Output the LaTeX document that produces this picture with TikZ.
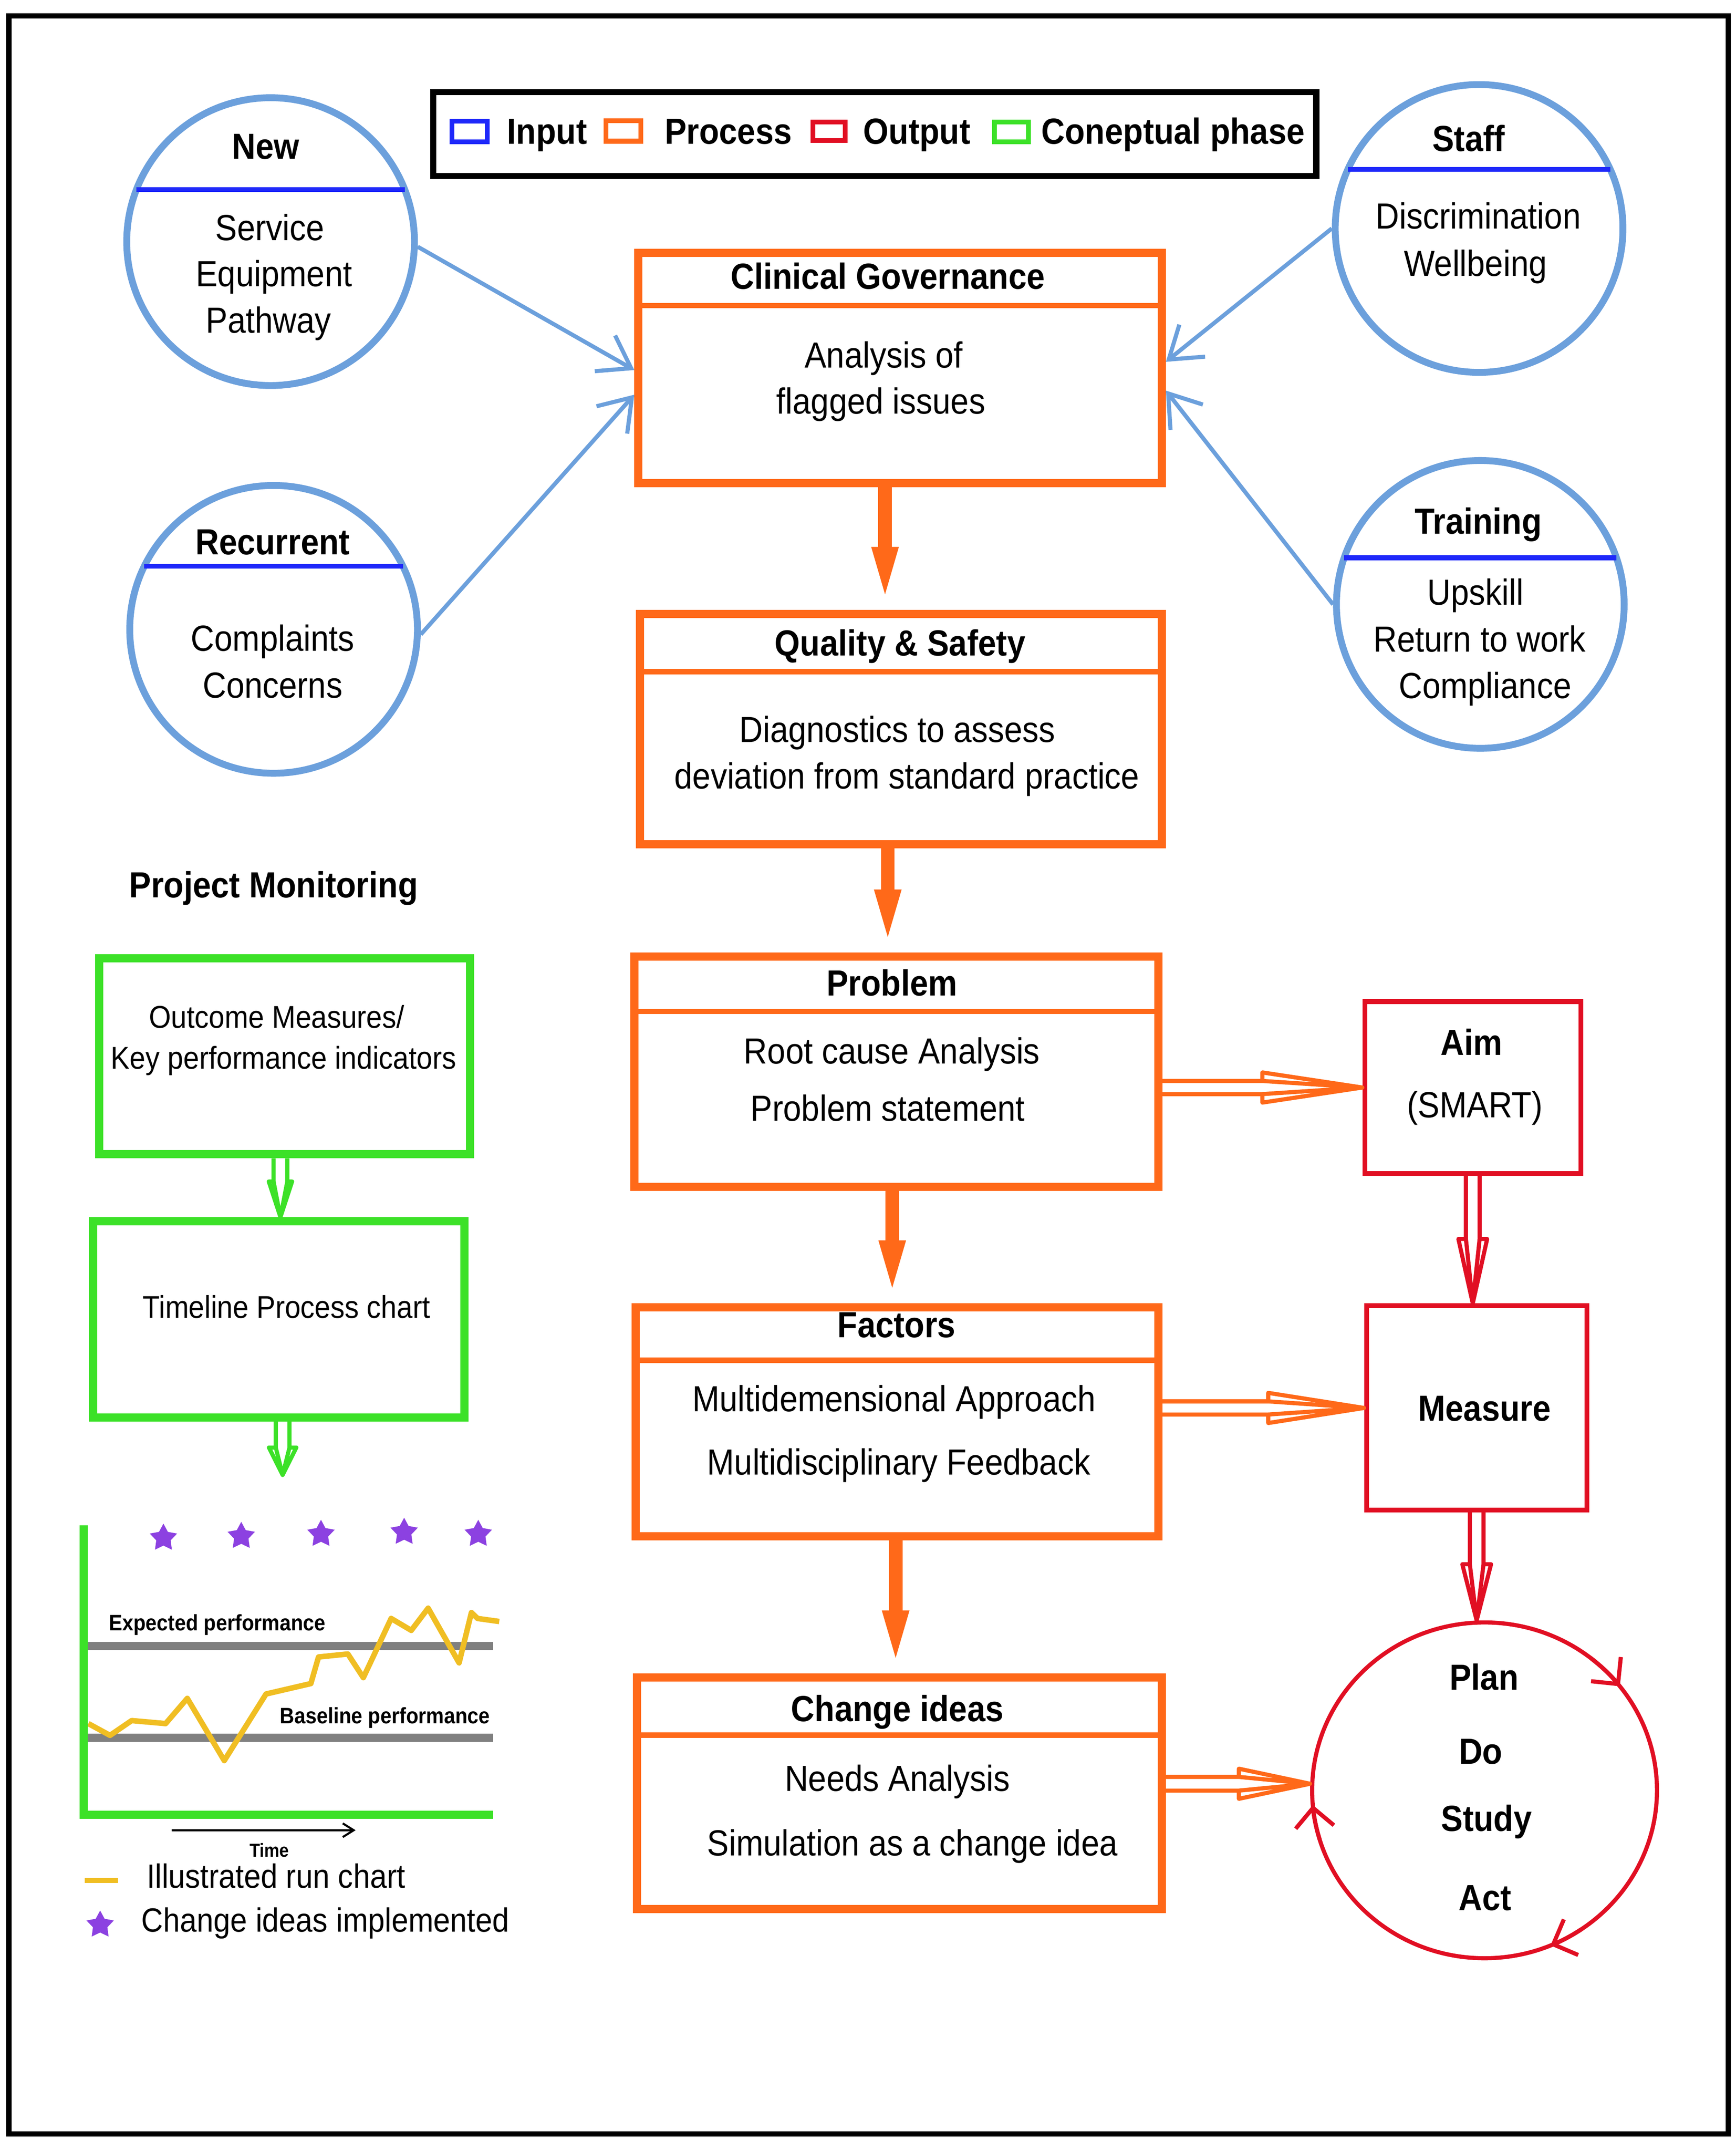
\documentclass[tikz,border=0pt]{standalone}
\usepackage{fontspec}
\setmainfont{Liberation Sans}[FakeStretch=0.9]
\usetikzlibrary{arrows.meta,calc,shapes.geometric}
\definecolor{cblue}{RGB}{108,160,220}
\definecolor{cdiv}{RGB}{30,40,250}
\definecolor{corange}{RGB}{255,105,25}
\definecolor{cred}{RGB}{225,15,35}
\definecolor{cgreen}{RGB}{60,225,40}
\definecolor{cgray}{RGB}{128,128,128}
\definecolor{cyellow}{RGB}{240,190,35}
\definecolor{cpurple}{RGB}{140,65,225}
\newcommand\fbody{\fontsize{26.5}{30}\selectfont}
\newcommand\fgreen{\fontsize{23}{27}\selectfont}
\newcommand\fsmall{\fontsize{16.3}{19}\selectfont}
\newcommand\ftime{\fontsize{13.8}{16}\selectfont}
\newcommand\fleg{\fontsize{24.5}{28}\selectfont}
% hollow arrow pointing right: style, start, tip, shaft half, head half, head length
\newcommand\hollowR[6]{\draw[#1] let \p1=(#2), \p2=(#3) in
  (\x1,\y2+#4) -- (\x2-#6,\y2+#4) -- (\x2-#6,\y2+#5) -- (\x2,\y2) -- (\x2-#6,\y2-#5) -- (\x2-#6,\y2-#4) -- (\x1,\y2-#4)
  (\x2-#6,\y2+#4) -- (\x2,\y2) -- (\x2-#6,\y2-#4);}
% hollow arrow pointing down
\newcommand\hollowD[6]{\draw[#1] let \p1=(#2), \p2=(#3) in
  (\x2-#4,\y1) -- (\x2-#4,\y2+#6) -- (\x2-#5,\y2+#6) -- (\x2,\y2) -- (\x2+#5,\y2+#6) -- (\x2+#4,\y2+#6) -- (\x2+#4,\y1)
  (\x2-#4,\y2+#6) -- (\x2,\y2) -- (\x2+#4,\y2+#6);}
\tikzset{
 txt/.style={font=\fbody, anchor=base, inner sep=0pt},
 ttl/.style={font=\fbody\bfseries, anchor=base, inner sep=0pt},
 gtxt/.style={font=\fgreen, anchor=base, inner sep=0pt},
 obox/.style={rectangle, draw=corange, line width=6pt, inner sep=0pt},
 odiv/.style={draw=corange, line width=4pt},
 rbox/.style={rectangle, draw=cred, line width=3.5pt, inner sep=0pt},
 gbox/.style={rectangle, draw=cgreen, line width=6pt, inner sep=0pt},
 bcirc/.style={circle, draw=cblue, line width=5pt, minimum size=210pt, inner sep=0pt},
 bdiv/.style={draw=cdiv, line width=3.5pt},
 barrow/.style={draw=cblue, line width=3pt, -{Straight Barb[length=22pt,width=30pt]}},
 oarrow/.style={draw=corange, line width=10pt, -{Triangle[length=46pt,width=16pt]}},
 ohollow/.style={draw=corange, line width=3pt, line join=round},
 rhollow/.style={draw=cred, line width=3pt, line join=round},
 ghollow/.style={draw=cgreen, line width=3pt, line join=round},
 cycarrow/.style={draw=cred, line width=3pt, -{Straight Barb[length=14pt,width=28pt]}},
 swatch/.style={line width=3.5pt},
 pstar/.style={star, star points=5, star point ratio=1.9, fill=cpurple, minimum size=21pt, inner sep=0pt},
}
\begin{document}
\begin{tikzpicture}[x=1pt,y=-1pt]
\useasboundingbox[fill=white] (0,0) rectangle (1267,1570.2);
% outer frame
\draw[line width=4pt] (6.5,11.6) rectangle (1261.5,1557);

% legend
\node[draw, line width=4.5pt, minimum width=644.6pt, minimum height=61.2pt, inner sep=0pt] (legend) at (638.5,97.8) {};
\draw[swatch, draw=cdiv] (329.8,88.5) rectangle (355.7,103.5);
\draw[swatch, draw=corange] (442.2,88) rectangle (467.7,103);
\draw[swatch, draw=cred] (593.3,89) rectangle (616.9,102.5);
\draw[swatch, draw=cgreen] (725.8,89) rectangle (750.8,103.5);
\node[ttl, anchor=base west] (lin) at (370,105) {Input};
\node[ttl, anchor=base west] (lpr) at (485,105) {Process};
\node[ttl, anchor=base west] (lout) at (630,105) {Output};
\node[ttl, anchor=base west] (lcon) at (760,105) {Coneptual phase};

% input circles
\node[bcirc] (new) at (197.5,176.3) {};
\draw[bdiv] ($(new)+(-97.9,-38)$) -- ($(new)+(97.9,-38)$);
\node[ttl] (nt) at (194,116) {New};
\node[txt] (n1) at (197,175.5) {Service};
\node[txt] (n2) at (200,209) {Equipment};
\node[txt] (n3) at (196,243) {Pathway};

\node[bcirc] (rec) at (199.7,459.2) {};
\draw[bdiv] ($(rec)+(-94.4,-46)$) -- ($(rec)+(94.4,-46)$);
\node[ttl] (rt) at (199,404.5) {Recurrent};
\node[txt] (r1) at (199,475) {Complaints};
\node[txt] (r2) at (199,509.3) {Concerns};

\node[bcirc] (staff) at (1079.6,166.7) {};
\draw[bdiv] ($(staff)+(-95.8,-43)$) -- ($(staff)+(95.8,-43)$);
\node[ttl] (st) at (1072,110.3) {Staff};
\node[txt] (s1) at (1079,167) {Discrimination};
\node[txt] (s2) at (1077,201.5) {Wellbeing};

\node[bcirc] (train) at (1080.5,441) {};
\draw[bdiv] ($(train)+(-99.3,-34)$) -- ($(train)+(99.3,-34)$);
\node[ttl] (tt) at (1079,389.5) {Training};
\node[txt] (t1) at (1077,441.5) {Upskill};
\node[txt] (t2) at (1080,475.5) {Return to work};
\node[txt] (t3) at (1084,509.5) {Compliance};

% process boxes
\node[obox, minimum width=382pt, minimum height=168pt] (cg) at (657,268.5) {};
\draw[odiv] (cg.west |- 0,223) -- (cg.east |- 0,223);
\node[ttl] (cgt) at (648,211) {Clinical Governance};
\node[txt] (cg1) at (645,268.5) {Analysis of};
\node[txt] (cg2) at (643,302) {flagged issues};

\node[obox, minimum width=381pt, minimum height=168pt] (qs) at (657.5,532) {};
\draw[odiv] (qs.west |- 0,490) -- (qs.east |- 0,490);
\node[ttl] (qst) at (657,478.5) {Quality \& Safety};
\node[txt] (qs1) at (655,541.5) {Diagnostics to assess};
\node[txt] (qs2) at (662,575.5) {deviation from standard practice};

\node[obox, minimum width=382.5pt, minimum height=168pt] (prob) at (654.25,782) {};
\draw[odiv] (prob.west |- 0,738) -- (prob.east |- 0,738);
\node[ttl] (pt) at (651,726.4) {Problem};
\node[txt] (p1) at (651,776) {Root cause Analysis};
\node[txt] (p2) at (648,818) {Problem statement};

\node[obox, minimum width=381.5pt, minimum height=167pt] (fac) at (654.75,1037.5) {};
\draw[odiv] (fac.west |- 0,992.5) -- (fac.east |- 0,992.5);
\node[ttl] (ft) at (654.4,976) {Factors};
\node[txt] (f1) at (652.6,1030) {Multidemensional Approach};
\node[txt] (f2) at (656,1076) {Multidisciplinary Feedback};

\node[obox, minimum width=383pt, minimum height=169pt] (chg) at (656.5,1308.5) {};
\draw[odiv] (chg.west |- 0,1266) -- (chg.east |- 0,1266);
\node[ttl] (ct) at (655,1256) {Change ideas};
\node[txt] (c1) at (655,1307) {Needs Analysis};
\node[txt] (c2) at (666,1354) {Simulation as a change idea};

% output boxes
\node[rbox, minimum width=157.7pt, minimum height=125.5pt] (aim) at (1075,793.5) {};
\node[ttl] (at) at (1074,770) {Aim};
\node[txt] (a1) at (1076.5,815.5) {(SMART)};
\node[rbox, minimum width=160.8pt, minimum height=149.1pt] (measure) at (1077.85,1027.3) {};
\node[ttl] (mt) at (1083.6,1036.7) {Measure};
\node[ellipse, draw=cred, line width=3pt, minimum width=251.7pt, minimum height=245pt, inner sep=0pt] (pdsa) at (1083.6,1306.3) {};
\node[ttl] (plan) at (1083.2,1233) {Plan};
\node[ttl] (do) at (1080.8,1287) {Do};
\node[ttl] (study) at (1085,1336) {Study};
\node[ttl] (act) at (1084,1394) {Act};
\draw[cycarrow] (pdsa.center) ++(-52:125.85 and 122.5) arc[start angle=-52, end angle=-38.3, x radius=125.85, y radius=122.5];
\draw[cycarrow] (pdsa.center) ++(56:125.85 and 122.5) arc[start angle=56, end angle=67.5, x radius=125.85, y radius=122.5];
\draw[cycarrow] (pdsa.center) ++(163:125.85 and 122.5) arc[start angle=163, end angle=175, x radius=125.85, y radius=122.5];

% input arrows
\draw[barrow] (new.-2) -- ($(cg.west)+(0,1.5)$);
\draw[barrow] (rec.-2) -- ($(cg.west)+(0,19.5)$);
\draw[barrow] (staff.180) -- ($(cg.east)+(0,-4.5)$);
\draw[barrow] (train.180) -- ($(cg.east)+(0,16.5)$);

% process arrows
\draw[oarrow] ([xshift=-11pt]cg.south) -- ([xshift=-11pt]cg.south |- qs.north);
\draw[oarrow] ([xshift=-9.5pt]qs.south) -- ([xshift=-9.5pt]qs.south |- prob.north);
\draw[oarrow] ([xshift=-3pt]prob.south) -- ([xshift=-3pt]prob.south |- fac.north);
\draw[oarrow] ([xshift=-1pt]fac.south) -- ([xshift=-1pt]fac.south |- chg.north);

% hollow arrows
\coordinate (cp) at ($(pdsa.west)+(0,-4.8)$);
\hollowR{ohollow}{prob.east}{aim.west}{4.8pt}{11pt}{73pt}
\hollowR{ohollow}{fac.east}{measure.west}{4.8pt}{11pt}{70pt}
\hollowR{ohollow}{chg.east}{cp}{5pt}{11pt}{52pt}
\coordinate (am) at (aim.south |- measure.north);
\coordinate (mp) at (measure.south |- pdsa.north);
\hollowD{rhollow}{aim.south}{am}{5pt}{10.5pt}{47pt}
\hollowD{rhollow}{measure.south}{mp}{5pt}{10.5pt}{41pt}

% project monitoring
\node[ttl, anchor=base west] (pm) at (94.2,655) {Project Monitoring};
\node[gbox, minimum width=270.6pt, minimum height=143.1pt] (g1) at (207.7,770.65) {};
\node[gtxt] (g1a) at (202,750) {Outcome Measures/};
\node[gtxt] (g1b) at (207,780) {Key performance indicators};
\node[gbox, minimum width=271pt, minimum height=143.1pt] (g2) at (203.4,962.65) {};
\node[gtxt] (g2a) at (209,961.7) {Timeline Process chart};
\coordinate (ga1) at ($(g1.south)+(-3,0)$);
\coordinate (ga1t) at (ga1 |- g2.north);
\hollowD{ghollow}{g1.south}{ga1t}{5pt}{8.5pt}{26pt}
\coordinate (gtip) at (206.3,1076.2);
\hollowD{ghollow}{g2.south}{gtip}{5pt}{10pt}{20pt}

% run chart
\draw[cgray, line width=6pt] (59,1201) -- (360,1201);
\draw[cgray, line width=6pt] (59,1268) -- (360,1268);
\draw[cyellow, line width=4pt, line join=round] (64.5,1257.6) -- (80.3,1266.2) -- (96.1,1255.4) -- (120.9,1257.6) -- (136.7,1239.2) -- (163.7,1284.6) -- (194.2,1236) -- (226.9,1228.4) -- (232.5,1209) -- (253.9,1206.8) -- (265.2,1224.1) -- (285.5,1180.9) -- (300.2,1189.6) -- (312.5,1173.4) -- (335.1,1213.3) -- (344.1,1176.6) -- (348.6,1180.9) -- (364.4,1183.1);
\draw[cgreen, line width=6pt] (61,1113) -- (61,1324) -- (360,1324);
\node[pstar] (st1) at (119.3,1122.2) {};
\node[pstar] (st2) at (176.1,1120.9) {};
\node[pstar] (st3) at (234.3,1119.4) {};
\node[pstar] (st4) at (295,1117.9) {};
\node[pstar] (st5) at (349.1,1119.4) {};
\node[font=\fsmall\bfseries, anchor=base, inner sep=0pt] (exp) at (158.6,1189.6) {Expected performance};
\node[font=\fsmall\bfseries, anchor=base, inner sep=0pt] (bas) at (281,1257.6) {Baseline performance};
\coordinate (ta) at (125.4,1335.4);
\coordinate (tb) at (259.6,1335.4);
\draw[line width=1.5pt, -{Straight Barb[length=8pt,width=10pt]}] (ta) -- (tb);
\node[font=\ftime\bfseries, anchor=base, inner sep=0pt] (time) at (196.6,1354.8) {Time};
\draw[cyellow, line width=4pt] (62,1372) -- (86,1372);
\node[font=\fleg, anchor=base, inner sep=0pt] (leg1) at (201.5,1377.5) {Illustrated run chart};
\node[pstar] (st6) at (73.1,1404.5) {};
\node[font=\fleg, anchor=base, inner sep=0pt] (leg2) at (237.5,1409.5) {Change ideas implemented};
\end{tikzpicture}
\end{document}
